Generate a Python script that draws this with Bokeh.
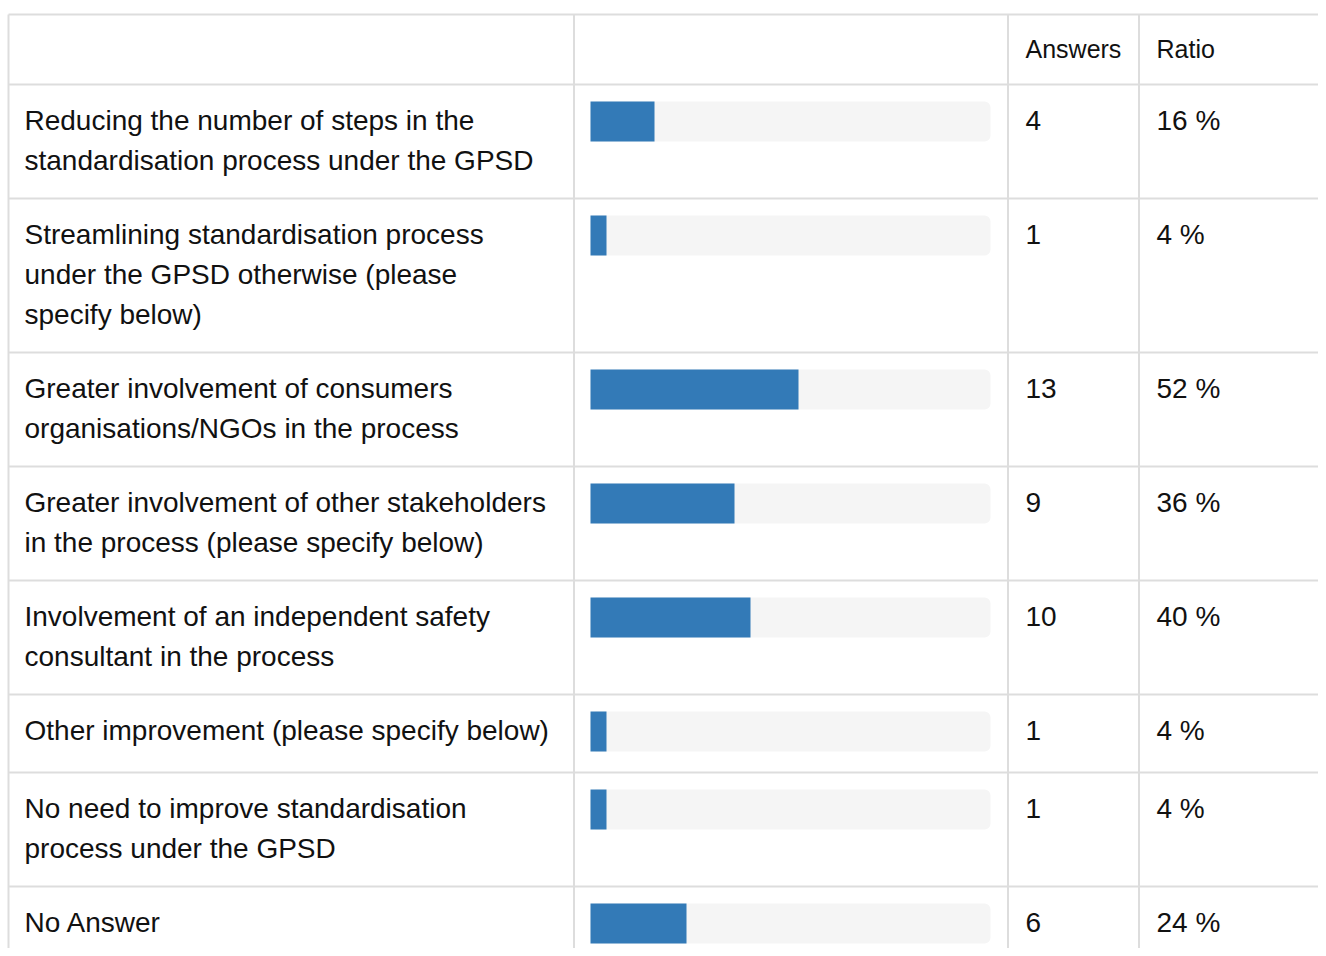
from bokeh.plotting import figure
from bokeh.models import Range1d, ColumnDataSource
from bokeh.core.properties import value
from bokeh.embed import file_html
from bokeh.resources import INLINE

# ---- data ----
labels = [
    "Reducing the number of steps in the\nstandardisation process under the GPSD",
    "Streamlining standardisation process\nunder the GPSD otherwise (please\nspecify below)",
    "Greater involvement of consumers\norganisations/NGOs in the process",
    "Greater involvement of other stakeholders\nin the process (please specify below)",
    "Involvement of an independent safety\nconsultant in the process",
    "Other improvement (please specify below)",
    "No need to improve standardisation\nprocess under the GPSD",
    "No Answer",
]
answers = [4, 1, 13, 9, 10, 1, 1, 6]
ratios = [16, 4, 52, 36, 40, 4, 4, 24]
headers = ["", "", "Answers", "Ratio"]

# ---- layout constants (screen pixels) ----
W, H = 1318, 948
X0, Y0 = 0, 0
TABLE_TOP = 14
HEADER_H = 70
LINE_H = 40
PAD = 17
COL_X = [8, 573.5, 1007.5, 1138.5]
RIGHT = X0 + W
TEXT_X = [24, 589, 1025, 1156]
TRACK_L, TRACK_W = 590, 400
BAR_H = 40
FONT = "Liberation Sans"
FS_BODY = "28px"
FS_HEAD = "25px"
GRID = "#dddddd"

p = figure(width=W, height=H, output_backend="svg", toolbar_location=None,
           x_range=Range1d(X0, X0 + W), y_range=Range1d(Y0 + H, Y0),
           min_border=0, outline_line_color=None, background_fill_color="white")
p.axis.visible = False
p.grid.visible = False

# rows geometry
tops = []
y = TABLE_TOP + HEADER_H
for lab in labels:
    n = len(lab.split("\n"))
    tops.append(y)
    y += max(n * LINE_H, LINE_H + 4) + 2 * PAD
bottoms = tops[1:] + [y]

# grid lines
hy = [TABLE_TOP] + tops
p.segment(x0=[COL_X[0]] * len(hy), x1=[RIGHT] * len(hy), y0=hy, y1=hy,
          line_color=GRID, line_width=2)
p.segment(x0=COL_X, x1=COL_X, y0=[TABLE_TOP] * 4, y1=[y] * 4,
          line_color=GRID, line_width=2)

# bars
centers = [t + PAD + BAR_H / 2 for t in tops]
p.hbar(y=centers, height=BAR_H, left=TRACK_L, right=TRACK_L + TRACK_W,
       fill_color="#f5f5f5", line_color=None, border_radius=6)
p.hbar(y=centers, height=BAR_H, left=TRACK_L,
       right=[TRACK_L + TRACK_W * r / 100 for r in ratios],
       fill_color="#337ab7", line_color=None)

# header texts
hx, hyy, ht = [], [], []
for i, h in enumerate(headers):
    if h:
        hx.append(TEXT_X[i]); hyy.append(TABLE_TOP + HEADER_H / 2 - 1); ht.append(h)
p.text(x=hx, y=hyy, text=ht, text_font=value(FONT),
       text_font_size=value(FS_HEAD), text_color="#111111",
       text_baseline="middle", text_align="left")

# body texts
tx, ty, tt = [], [], []
for t, lab, a, r in zip(tops, labels, answers, ratios):
    for k, line in enumerate(lab.split("\n")):
        tx.append(TEXT_X[0]); ty.append(t + 36 + k * LINE_H); tt.append(line)
    tx.append(TEXT_X[2]); ty.append(t + 36); tt.append(str(a))
    tx.append(TEXT_X[3]); ty.append(t + 36); tt.append(f"{r} %")

src = ColumnDataSource(dict(x=tx, y=ty, t=tt))
p.text(x="x", y="y", text="t", source=src, text_font=value(FONT),
       text_font_size=value(FS_BODY), text_color="#111111",
       text_baseline="middle", text_align="left")

open("out.html", "w").write(file_html(p, INLINE))
